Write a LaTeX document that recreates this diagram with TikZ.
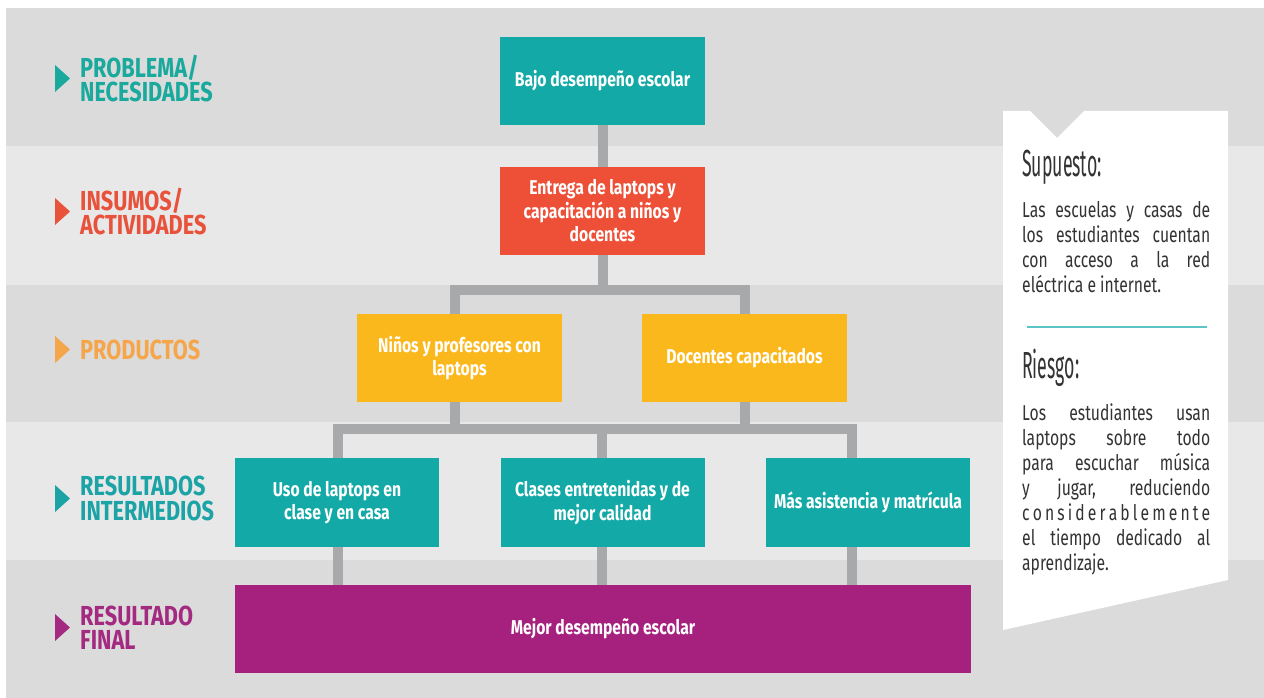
\documentclass[tikz,border=0pt]{standalone}
\usepackage{fontspec}
\setmainfont{Fira Sans}
\newfontfamily\labf[FakeStretch=0.79]{Fira Sans}
\newfontfamily\boxf[FakeStretch=0.785]{Fira Sans}
\newfontfamily\bodyf[FakeStretch=0.73]{Fira Sans}
\newfontfamily\headf[FakeStretch=0.47]{Fira Sans}
\definecolor{bandD}{HTML}{DCDBDB}
\definecolor{bandL}{HTML}{E9E8E9}
\definecolor{tealbox}{HTML}{12A9A6}
\definecolor{redbox}{HTML}{EE4F37}
\definecolor{yelbox}{HTML}{FBB81D}
\definecolor{purbox}{HTML}{A6217E}
\definecolor{tealA}{HTML}{1AA99D}
\definecolor{redA}{HTML}{E8523B}
\definecolor{orA}{HTML}{F5A54A}
\definecolor{tealB}{HTML}{1BA3A6}
\definecolor{purA}{HTML}{A32A80}
\definecolor{linkgray}{HTML}{A7A9AB}
\definecolor{paneltext}{HTML}{333333}
\definecolor{divcol}{HTML}{5CC3C6}
\pgfdeclarelayer{bg}
\pgfdeclarelayer{links}
\pgfsetlayers{bg,links,main}
\begin{document}
\begin{tikzpicture}[x=1pt,y=-1pt,
  box/.style={rectangle, inner sep=0pt, minimum width=205pt, minimum height=88pt,
    align=center, text=white, font=\boxf\bfseries\fontsize{20}{23.5}\selectfont},
  lab/.style={anchor=west, inner sep=0pt, align=left,
    font=\labf\bfseries\fontsize{27.5}{24.5}\selectfont},
  link/.style={draw=linkgray, line width=10pt, line join=miter, line cap=butt},
  bodyline/.style={anchor=base west, inner sep=0pt, text=paneltext,
    font=\bodyf\fontsize{21.5}{25}\selectfont},
  headline/.style={anchor=base west, inner sep=0pt, text=paneltext,
    font=\headf\fontsize{37.7}{40}\selectfont}]
\useasboundingbox (0,0) rectangle (1264,698);
\begin{pgfonlayer}{bg}
  \fill[white] (0,0) rectangle (1264,698);
  \fill[bandD] (6,8) rectangle (1264,146);
  \fill[bandL] (6,146) rectangle (1264,285);
  \fill[bandD] (6,285) rectangle (1264,422);
  \fill[bandL] (6,422) rectangle (1264,560);
  \fill[bandD] (6,560) rectangle (1264,698);
  \fill[white] (1003,111) -- (1030,111) -- (1057,138) -- (1084,111) -- (1228,111)
    -- (1228,580) -- (1003,630) -- cycle;
\end{pgfonlayer}

% left labels
\fill[tealA] (55,65) -- (70,78.5) -- (55,92) -- cycle;
\node[lab, text=tealA] (l1) at (80,78.5) {PROBLEMA/\\NECESIDADES};
\fill[redA] (55,198) -- (70,211.5) -- (55,225) -- cycle;
\node[lab, text=redA] (l2) at (80,211.5) {INSUMOS/\\ACTIVIDADES};
\fill[orA] (55,336) -- (70,349.5) -- (55,363) -- cycle;
\node[lab, text=orA] (l3) at (80,349.5) {PRODUCTOS};
\fill[tealB] (55,485) -- (70,498.5) -- (55,512) -- cycle;
\node[lab, text=tealB] (l4) at (80,498.5) {RESULTADOS\\INTERMEDIOS};
\fill[purA] (55,614) -- (70,627.5) -- (55,641) -- cycle;
\node[lab, text=purA] (l5) at (80,627.5) {RESULTADO\\FINAL};

% boxes
\node[box, fill=tealbox] (bajo) at (602.5,81) {Bajo desempeño escolar};
\node[box, fill=redbox] (entrega) at (602.5,211) {Entrega de laptops y\\capacitación a niños y\\docentes};
\node[box, fill=yelbox] (ninos) at (459.5,358) {Niños y profesores con\\laptops};
\node[box, fill=yelbox] (docentes) at (744.5,358) {Docentes capacitados};
\node[box, fill=tealbox, minimum width=204pt, minimum height=89pt] (uso) at (337,502.5) {Uso de laptops en\\clase y en casa};
\node[box, fill=tealbox, minimum width=204pt, minimum height=89pt] (clases) at (602.5,502.5) {Clases entretenidas y de\\mejor calidad};
\node[box, fill=tealbox, minimum width=204pt, minimum height=89pt] (mas) at (868,502.5) {Más asistencia y matrícula};
\node[box, fill=purbox, minimum width=736pt] (mejor) at (603,629) {Mejor desempeño escolar};

% junction coordinates
\coordinate (ja) at (455,290);
\coordinate (jb) at (745,290);
\coordinate (kn) at (455,429);
\coordinate (kd) at (745,429);
\coordinate (ka) at (338,429);
\coordinate (kc) at (602,429);
\coordinate (kb) at (852,429);

\begin{pgfonlayer}{links}
  \draw[link] (bajo) -- (entrega);
  \draw[link] (entrega) -- (entrega |- ja);
  \draw[link] (ninos.north -| ja) -- (ja) -- (jb) -- (docentes.north -| jb);
  \draw[link] (ninos.south -| kn) -- (kn);
  \draw[link] (docentes.south -| kd) -- (kd);
  \draw[link] (uso.north -| ka) -- (ka) -- (kb) -- (mas.north -| kb);
  \draw[link] (kc) -- (clases.north -| kc);
  \draw[link] (uso.south -| ka) -- (mejor.north -| ka);
  \draw[link] (clases.south -| kc) -- (mejor.north -| kc);
  \draw[link] (mas.south -| kb) -- (mejor.north -| kb);
\end{pgfonlayer}

% right panel
\node[headline] (sup) at (1022,176) {Supuesto:};
\foreach \t [count=\i] in {{Las escuelas y casas de},{los estudiantes cuentan},{con acceso a la red},{eléctrica e internet.\hfill}}
  \node[bodyline] (s\i) at (1022,{217+25*(\i-1)}) {\makebox[188pt][s]{\t}};
\draw[divcol, line width=2.5pt] (1027,327) -- (1207,327);
\node[headline] (rie) at (1022,378) {Riesgo:};
\foreach \t [count=\i] in {{Los estudiantes usan},{laptops sobre todo},{para escuchar música},{y jugar, reduciendo},{c\hfill o\hfill n\hfill s\hfill i\hfill d\hfill e\hfill r\hfill a\hfill b\hfill l\hfill e\hfill m\hfill e\hfill n\hfill t\hfill e},{el tiempo dedicado al},{aprendizaje.\hfill}}
  \node[bodyline] (r\i) at (1022,{420+25*(\i-1)}) {\makebox[188pt][s]{\t}};
\end{tikzpicture}
\end{document}
